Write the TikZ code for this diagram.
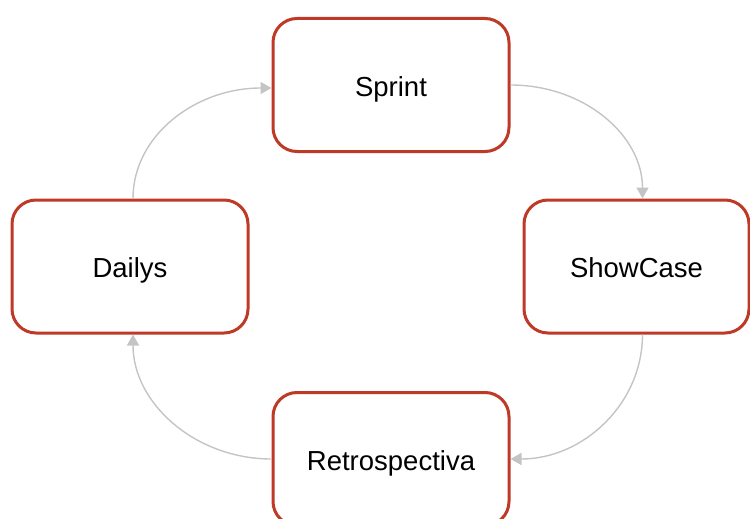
\documentclass[tikz,border=0pt]{standalone}
\usepackage{fontspec}
\setmainfont{Liberation Sans}
\usetikzlibrary{arrows.meta,calc}
\definecolor{boxred}{RGB}{190,58,38}
\definecolor{flowgray}{RGB}{196,196,196}
\begin{document}
\begin{tikzpicture}[x=1pt,y=-1pt,
  stage/.style={draw=boxred, line width=3pt, rounded corners=24pt, fill=white,
    minimum width=236pt, minimum height=133pt, text height=22pt, text depth=0pt,
    font=\fontsize{27.5}{32}\selectfont},
  flow/.style={draw=flowgray, line width=1.4pt, -{Triangle[length=11pt,width=12pt]}}]
  \useasboundingbox (0,0) rectangle (750,519);
  % the four stages of the cycle
  \node[stage] (spr) at (391,85) {Sprint};
  \node[stage, minimum width=225pt] (sho) at (636.5,266.5) {ShowCase};
  \node[stage] (ret) at (391,459) {Retrospectiva};
  \node[stage] (dai) at (130,266.5) {Dailys};
  % clockwise connectors, each a quarter arc
  \draw[flow] (spr.east) .. controls +(74,0) and +(0,-63) .. ($(sho.north)+(6,0)$);
  \draw[flow] ($(sho.south)+(6,0)$) .. controls +(0,69) and +(73,0) .. (ret.east);
  \draw[flow] (ret.west) .. controls +(-76,0) and +(0,69) .. ($(dai.south)+(3,0)$);
  \draw[flow] ($(dai.north)+(3,0)$) .. controls +(0,-63) and +(-76,0) .. ($(spr.west)+(0,3)$);
\end{tikzpicture}
\end{document}
